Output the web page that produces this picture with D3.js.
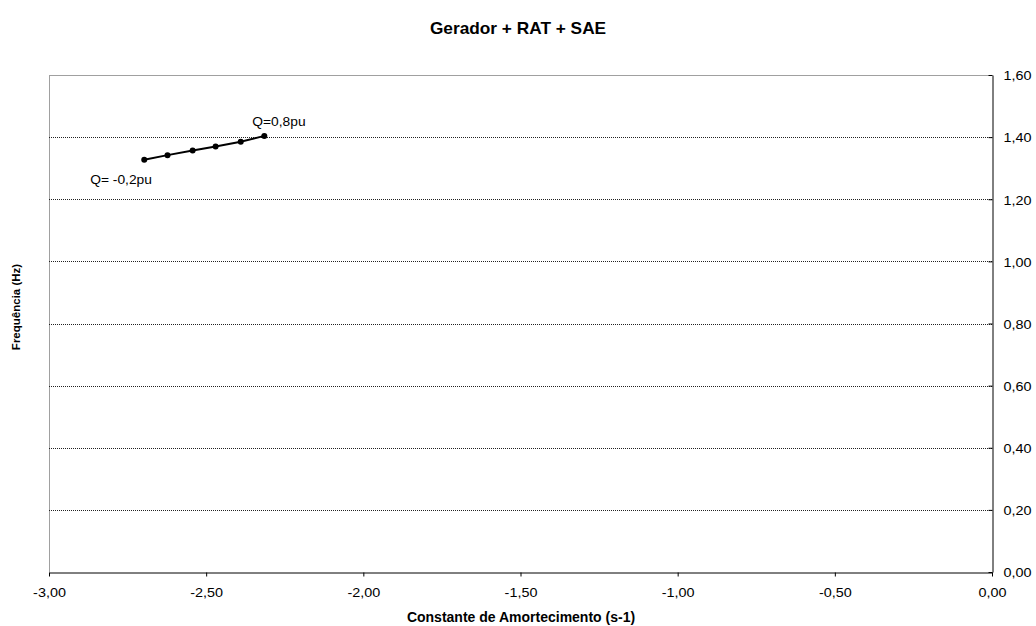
<!DOCTYPE html>
<html>
<head>
<meta charset="utf-8">
<script src="https://cdn.jsdelivr.net/npm/d3@7"></script>
<style>
  html, body { margin: 0; padding: 0; background: #fff; }
  svg { display: block; font-family: "Liberation Sans", Arial, sans-serif; }
</style>
</head>
<body>
<svg id="chart" width="1036" height="626"></svg>
<script>
// Damping constant (s-1) vs. frequency (Hz) for Q from -0.2 pu to 0.8 pu
const dampingValues = [-2.697, -2.623, -2.543, -2.47, -2.39, -2.315];
const freqValues    = [1.327, 1.342, 1.357, 1.370, 1.385, 1.404];
const pointLabels   = ["Q= -0,2pu", "", "", "", "", "Q=0,8pu"];
const xTickValues   = [-3, -2.5, -2, -1.5, -1, -0.5, 0];
const yTickValues   = [0, 0.2, 0.4, 0.6, 0.8, 1.0, 1.2, 1.4, 1.6];

const svg = d3.select("#chart");
const plot = { left: 49, right: 992, top: 75, bottom: 572 };

const x = d3.scaleLinear().domain([-3, 0]).range([plot.left, plot.right]);
const y = d3.scaleLinear().domain([0, 1.6]).range([plot.bottom, plot.top]);
// decimal comma and a plain hyphen for negatives
const fmt = v => d3.format(".2f")(v).replace(".", ",").replace("\u2212", "-");
const labelFont = "Liberation Sans, Arial, sans-serif";

// plot frame (left and top edges)
svg.append("line").attr("x1", plot.left + 0.5).attr("x2", plot.left + 0.5)
  .attr("y1", plot.top).attr("y2", plot.bottom).attr("stroke", "#a0a0a0").attr("stroke-width", 1);
svg.append("line").attr("x1", plot.left).attr("x2", plot.right)
  .attr("y1", plot.top + 0.5).attr("y2", plot.top + 0.5).attr("stroke", "#a0a0a0").attr("stroke-width", 1);

// dotted gridlines
svg.append("g").selectAll("line")
  .data(yTickValues.filter(v => v > 0 && v < 1.6))
  .join("line")
  .attr("x1", plot.left).attr("x2", plot.right)
  .attr("y1", d => Math.round(y(d)) + 0.5).attr("y2", d => Math.round(y(d)) + 0.5)
  .attr("stroke", "#222").attr("stroke-width", 1).attr("stroke-dasharray", "1,1");

// x axis
const xAxis = svg.append("g").attr("transform", `translate(0,${plot.bottom + 0.5})`)
  .call(d3.axisBottom(x).tickValues(xTickValues).tickFormat(fmt).tickSize(4).tickSizeOuter(0));
xAxis.select(".domain").attr("stroke", "#000");
xAxis.selectAll(".tick line").attr("stroke", "#000");
xAxis.selectAll(".tick text")
  .attr("font-size", 12).attr("fill", "#000").attr("font-family", labelFont)
  .attr("y", 0).attr("dy", 0)
  .attr("transform", "translate(0,24.5) scale(1.2,1)");

// y axis on the right, ticks pointing inward
const yAxis = svg.append("g").attr("transform", `translate(${plot.right + 0.5},0)`)
  .call(d3.axisRight(y).tickValues(yTickValues).tickFormat(fmt).tickSize(0).tickSizeOuter(0));
yAxis.select(".domain").attr("stroke", "#000");
yAxis.selectAll(".tick line").attr("x2", -4).attr("stroke", "#000");
yAxis.selectAll(".tick text")
  .attr("font-size", 12).attr("fill", "#000").attr("font-family", labelFont)
  .attr("x", 0).attr("y", 1)
  .attr("transform", "translate(11,0) scale(1.2,1)");

// series line and markers
const line = d3.line().x((d, i) => x(dampingValues[i])).y(d => y(d));
svg.append("path").datum(freqValues).attr("d", line)
  .attr("fill", "none").attr("stroke", "#000").attr("stroke-width", 2);
svg.append("g").selectAll("circle").data(freqValues).join("circle")
  .attr("cx", (d, i) => x(dampingValues[i])).attr("cy", d => y(d))
  .attr("r", 3).attr("fill", "#000");

// point annotations
const addNote = (text, px, py) => svg.append("text")
  .attr("transform", `translate(${px},${py}) scale(1.15,1)`)
  .attr("font-size", 12).attr("fill", "#000").text(text);
addNote(pointLabels[0], x(dampingValues[0]) - 54, y(freqValues[0]) + 24);
addNote(pointLabels[5], x(dampingValues[5]) - 12, y(freqValues[5]) - 9.5);

// titles
svg.append("text").attr("transform", "translate(518,34) scale(1.08,1)").attr("text-anchor", "middle")
  .attr("font-size", 16).attr("font-weight", "bold").text("Gerador + RAT + SAE");
svg.append("text").attr("x", 521).attr("y", 622).attr("text-anchor", "middle")
  .attr("font-size", 14).attr("font-weight", "bold").text("Constante de Amortecimento (s-1)");
svg.append("text").attr("transform", "translate(20,307) rotate(-90)").attr("text-anchor", "middle")
  .attr("font-size", 11.5).attr("font-weight", "bold").text("Frequência (Hz)");
</script>
</body>
</html>
